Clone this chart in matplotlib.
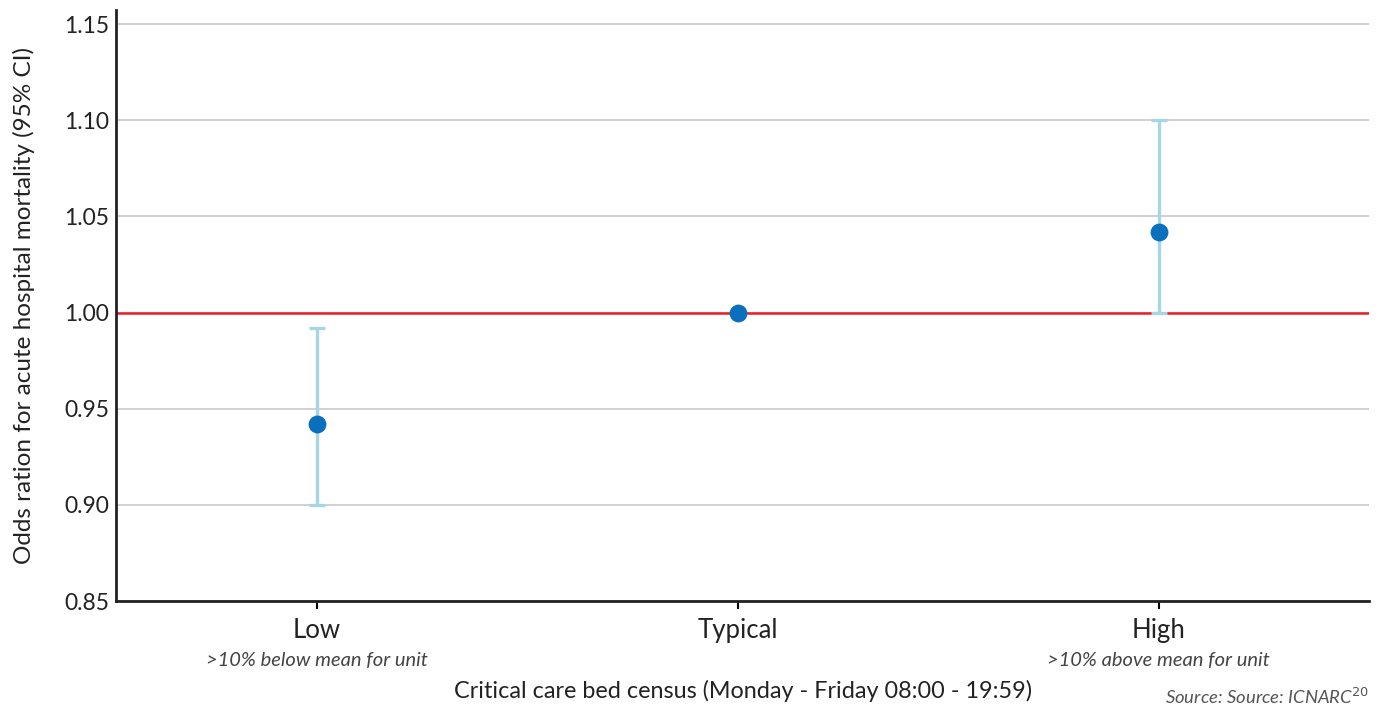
import matplotlib.pyplot as plt
import numpy as np

plt.rcParams['font.family'] = ['Lato', 'DejaVu Sans']

# data
categories = ['Low', 'Typical', 'High']
subtitles = ['>10% below mean for unit', '', '>10% above mean for unit']
odds = [0.942, 1.0, 1.042]
ci_low = [0.900, 1.0, 1.000]
ci_high = [0.992, 1.0, 1.100]
yticks = [0.85, 0.90, 0.95, 1.00, 1.05, 1.10, 1.15]

fig = plt.figure(figsize=(13.84, 7.08), dpi=100)
ax = fig.add_axes([116 / 1384, 1 - 601 / 708, (1369 - 116) / 1384, (601 - 10) / 708])

x = np.arange(len(categories))
odds = np.array(odds)
err = [odds - np.array(ci_low), np.array(ci_high) - odds]

ax.axhline(1.0, color='#ee1c25', lw=1.8, zorder=2)
ax.errorbar(x, odds, yerr=err, fmt='none', ecolor='#a6d6e6', elinewidth=2.4,
            capsize=6, capthick=2.4, zorder=3)
ax.scatter(x, odds, s=165, color='#0a6fbd', zorder=4, linewidths=0)

ax.set_xlim(-0.478, 2.5)
ax.set_ylim(0.85, 1.1573)
ax.set_yticks(yticks)
ax.set_yticklabels(['%.2f' % v for v in yticks], fontsize=16.5, color='#222222')
ax.grid(axis='y', color='#c4c4c4', lw=1.1)
ax.set_axisbelow(True)

ax.set_xticks(x)
ax.set_xticklabels(categories, fontsize=18.5, color='#222222')
ax.tick_params(axis='x', length=6, width=1.5, pad=6)
ax.tick_params(axis='y', length=0, pad=5)
for i, s in enumerate(subtitles):
    if s:
        ax.text(x[i], -0.1, s, transform=ax.get_xaxis_transform(), ha='center',
                va='center', fontsize=14.5, style='italic', color='#444444')

for side in ['top', 'right']:
    ax.spines[side].set_visible(False)
for side in ['left', 'bottom']:
    ax.spines[side].set_linewidth(2)
    ax.spines[side].set_color('#222222')

fig.text(743 / 1384, 1 - 691 / 708,
         'Critical care bed census (Monday - Friday 08:00 - 19:59)',
         ha='center', va='center', fontsize=16.8, color='#222222')
ax.set_ylabel('Odds ration for acute hospital mortality (95% CI)',
              fontsize=17.5, color='#222222', labelpad=21)

fig.text(1369 / 1384, 1 - 697 / 708, 'Source: Source: ICNARC$^{20}$',
         ha='right', va='center', fontsize=13.3, style='italic', color='#555555')

fig.savefig('out.png', dpi=100)
